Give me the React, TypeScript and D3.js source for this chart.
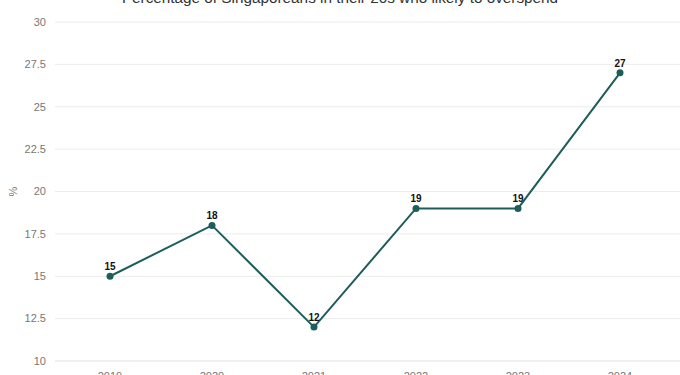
import React, { useEffect, useRef } from "react"
import * as d3 from "d3"

const years = ["2019", "2020", "2021", "2022", "2023", "2024"]
const shares = [15, 18, 12, 19, 19, 27]
const yTicks = [10, 12.5, 15, 17.5, 20, 22.5, 25, 27.5, 30]

const W = 680
const H = 375

const App = () => {
  const ref = useRef<SVGSVGElement>(null)

  useEffect(() => {
    const svg = d3.select(ref.current)
    svg.selectAll("*").remove()

    const x = d3.scaleBand().domain(years).range([59, 671])
    const y = d3.scaleLinear().domain([10, 30]).range([361, 22])
    const cx = (d: string) => (x(d) as number) + x.bandwidth() / 2

    // grid
    svg.append("g")
      .selectAll("line")
      .data(yTicks)
      .enter()
      .append("line")
      .attr("x1", 55)
      .attr("x2", W)
      .attr("y1", (d) => y(d))
      .attr("y2", (d) => y(d))
      .style("stroke", (d) => (d === 10 ? "#e0e0e0" : "#ececec"))
      .style("stroke-width", 1)

    svg.append("g")
      .selectAll("text")
      .data(yTicks)
      .enter()
      .append("text")
      .attr("x", 46)
      .attr("y", (d) => y(d))
      .attr("dy", "0.35em")
      .attr("text-anchor", "end")
      .style("font-family", "Liberation Sans, Arial, sans-serif")
      .style("font-size", "11px")
      .style("fill", "#777")
      .text((d) => String(d))

    svg.append("text")
      .attr("transform", `translate(17, ${y(20)}) rotate(-90)`)
      .attr("text-anchor", "middle")
      .style("font-family", "Liberation Sans, Arial, sans-serif")
      .style("font-size", "11px")
      .style("fill", "#777")
      .text("%")

    svg.append("g")
      .selectAll("text")
      .data(years)
      .enter()
      .append("text")
      .attr("x", (d) => cx(d))
      .attr("y", 380)
      .attr("text-anchor", "middle")
      .style("font-family", "Liberation Sans, Arial, sans-serif")
      .style("font-size", "11px")
      .style("fill", "#777")
      .text((d) => d)

    svg.append("text")
      .attr("x", W / 2)
      .attr("y", 3)
      .attr("text-anchor", "middle")
      .style("font-family", "Liberation Sans, Arial, sans-serif")
      .style("font-size", "15.3px")
      .style("fill", "#333")
      .text("Percentage of Singaporeans in their 20s who likely to overspend")

    const pts = years.map((d, i) => ({ year: d, value: shares[i] }))

    const line = d3.line<{ year: string; value: number }>()
      .x((d) => cx(d.year))
      .y((d) => y(d.value))

    svg.append("path")
      .datum(pts)
      .attr("d", line)
      .style("fill", "none")
      .style("stroke", "#1d5e5a")
      .style("stroke-width", 2)

    svg.append("g")
      .selectAll("circle")
      .data(pts)
      .enter()
      .append("circle")
      .attr("cx", (d) => cx(d.year))
      .attr("cy", (d) => y(d.value))
      .attr("r", 3.5)
      .style("fill", "#1d5e5a")

    svg.append("g")
      .selectAll("text")
      .data(pts)
      .enter()
      .append("text")
      .attr("x", (d) => cx(d.year))
      .attr("y", (d) => y(d.value) - 6)
      .attr("text-anchor", "middle")
      .style("font-family", "Liberation Sans, Arial, sans-serif")
      .style("font-size", "10px")
      .style("font-weight", "bold")
      .style("fill", "#111")
      .text((d) => String(d.value))
  }, [])

  return (
    <svg
      ref={ref}
      width={W}
      height={H}
      style={{ position: "absolute", left: 0, top: 0, background: "#fff" }}
    />
  )
}

export default App
